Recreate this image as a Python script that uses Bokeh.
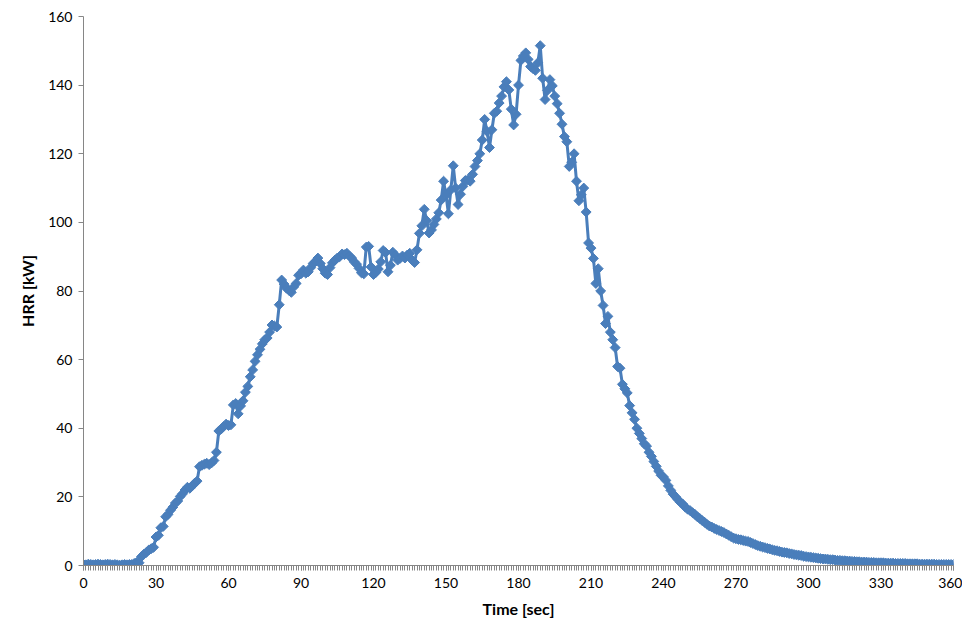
import math
from bokeh.plotting import figure
from bokeh.models import Range1d, FixedTicker
from bokeh.embed import file_html
from bokeh.resources import INLINE

# Time [sec], 1-second steps
time_sec = list(range(0, 361))

# HRR [kW]
hrr_kw = [
    0.3, 0.2, 0.4, 0.3, 0.2, 0.3, 0.4, 0.3, 0.2, 0.3,
    0.4, 0.3, 0.2, 0.3, 0.2, 0.1, 0.2, 0.3, 0.2, 0.3,
    0.3, 0.6, 0.9, 0.8, 2.6, 3.3, 3.8, 4.5, 4.9, 5.3,
    8.3, 8.8, 11.0, 11.4, 14.2, 14.9, 16.1, 17.0, 18.2, 18.8,
    20.1, 20.9, 22.0, 22.8, 22.5, 23.2, 24.0, 24.6, 28.8, 29.2,
    29.5, 29.8, 29.4, 29.9, 30.6, 33.0, 39.2, 39.8, 40.5, 41.2,
    40.8, 41.0, 46.8, 47.2, 44.2, 46.5, 48.0, 50.5, 52.2, 55.0,
    57.0, 59.5, 61.4, 63.0, 64.6, 65.8, 66.3, 68.0, 70.1, 69.8,
    69.5, 76.0, 83.2, 82.0, 80.8, 80.2, 79.6, 81.2, 82.2, 84.6,
    85.0, 86.1, 85.2, 85.6, 86.8, 88.0, 88.6, 89.6, 88.0, 86.5,
    85.2, 84.8, 86.8, 88.2, 89.0, 89.6, 90.0, 90.8, 90.6, 91.0,
    90.2, 89.6, 88.5, 87.8, 86.6, 85.3, 85.0, 92.8, 93.0, 87.0,
    84.8, 85.4, 86.4, 88.5, 91.8, 91.2, 85.6, 87.5, 91.3, 90.5,
    89.0, 89.5, 90.2, 89.6, 90.5, 91.0, 89.0, 88.3, 92.0, 96.8,
    99.0, 103.8, 100.5, 96.9, 97.8, 99.4, 101.0, 102.8, 106.5, 112.0,
    108.0, 102.5, 109.5, 116.5, 110.0, 105.2, 108.2, 110.5, 112.2, 112.4,
    112.0, 114.0, 116.3, 118.0, 120.0, 124.0, 130.0, 126.5, 121.8, 127.0,
    131.8, 132.4, 134.8, 136.8, 139.5, 141.0, 138.6, 133.0, 128.4, 131.5,
    140.0, 147.2, 148.5, 149.4, 147.5, 145.4, 144.8, 144.3, 146.5, 151.5,
    142.0, 135.8, 138.5, 141.6, 139.8, 136.8, 134.6, 131.8, 128.6, 125.0,
    123.5, 116.3, 117.5, 120.0, 112.0, 106.3, 108.0, 110.0, 103.0, 94.0,
    92.5, 89.5, 82.2, 86.5, 80.0, 75.8, 70.5, 72.6, 68.0, 65.8,
    63.5, 58.0, 57.5, 52.8, 51.5, 50.3, 46.6, 44.5, 42.6, 40.0,
    38.5, 37.0, 35.5, 34.8, 33.0, 31.8, 30.3, 28.9, 27.5, 26.3,
    25.8, 24.8, 23.2, 21.9, 20.8, 20.0, 19.2, 18.4, 17.9, 17.0,
    16.4, 16.0, 15.4, 14.9, 14.2, 13.7, 13.1, 12.6, 12.0, 11.5,
    11.2, 10.8, 10.5, 10.2, 9.9, 9.6, 9.2, 8.8, 8.4, 8.0,
    7.8, 7.6, 7.5, 7.3, 7.1, 7.0, 6.7, 6.4, 6.1, 5.8,
    5.6, 5.4, 5.2, 5.0, 4.8, 4.6, 4.4, 4.3, 4.1, 3.9,
    3.8, 3.7, 3.5, 3.4, 3.2, 3.1, 3.0, 2.9, 2.7, 2.6,
    2.5, 2.4, 2.3, 2.2, 2.1, 2.0, 1.9, 1.9, 1.8, 1.7,
    1.7, 1.6, 1.5, 1.5, 1.4, 1.4, 1.3, 1.3, 1.2, 1.2,
    1.1, 1.1, 1.0, 1.0, 1.0, 0.9, 0.9, 0.9, 0.8, 0.8,
    0.8, 0.8, 0.7, 0.7, 0.7, 0.7, 0.6, 0.6, 0.6, 0.6,
    0.6, 0.5, 0.5, 0.5, 0.5, 0.5, 0.4, 0.4, 0.4, 0.4,
    0.4, 0.4, 0.4, 0.3, 0.3, 0.3, 0.3, 0.3, 0.3, 0.3,
    0.3,
]

x_ticks = list(range(0, 361, 30))
y_ticks = list(range(0, 161, 20))

FONT = "Lato"
BLUE = "#4a7ebb"
AXIS = "#868686"

p = figure(
    width=962, height=623,
    output_backend="svg", toolbar_location=None,
    x_range=Range1d(0, 360), y_range=Range1d(0, 160),
    min_border_left=83, min_border_right=9,
    min_border_top=16, min_border_bottom=58,
)
p.outline_line_color = None
p.xgrid.grid_line_color = None
p.ygrid.grid_line_color = None
p.background_fill_color = "white"
p.border_fill_color = "white"

p.line(time_sec, hrr_kw, line_color=BLUE, line_width=3)
p.scatter(time_sec, hrr_kw, marker="square", size=7, angle=math.pi / 4,
          fill_color=BLUE, line_color=BLUE)

xa = p.xaxis[0]
xa.ticker = FixedTicker(ticks=x_ticks, minor_ticks=time_sec)
xa.axis_label = "Time [sec]"
ya = p.yaxis[0]
ya.ticker = FixedTicker(ticks=y_ticks, minor_ticks=[])
ya.axis_label = "HRR [kW]"

for ax in (xa, ya):
    ax.axis_line_color = AXIS
    ax.major_tick_line_color = AXIS
    ax.minor_tick_line_color = AXIS
    ax.major_tick_in = 0
    ax.major_tick_out = 5
    ax.minor_tick_in = 0
    ax.minor_tick_out = 5
    ax.major_label_text_font = FONT
    ax.major_label_text_font_size = "14px"
    ax.major_label_text_color = "black"
    ax.axis_label_text_font = FONT
    ax.axis_label_text_font_size = "16px"
    ax.axis_label_text_font_style = "bold"
    ax.axis_label_text_color = "black"

ya.minor_tick_out = 0
xa.major_label_standoff = 7
xa.axis_label_standoff = 8
ya.major_label_standoff = 6
ya.axis_label_standoff = 8

open("out.html", "w").write(file_html(p, INLINE))
